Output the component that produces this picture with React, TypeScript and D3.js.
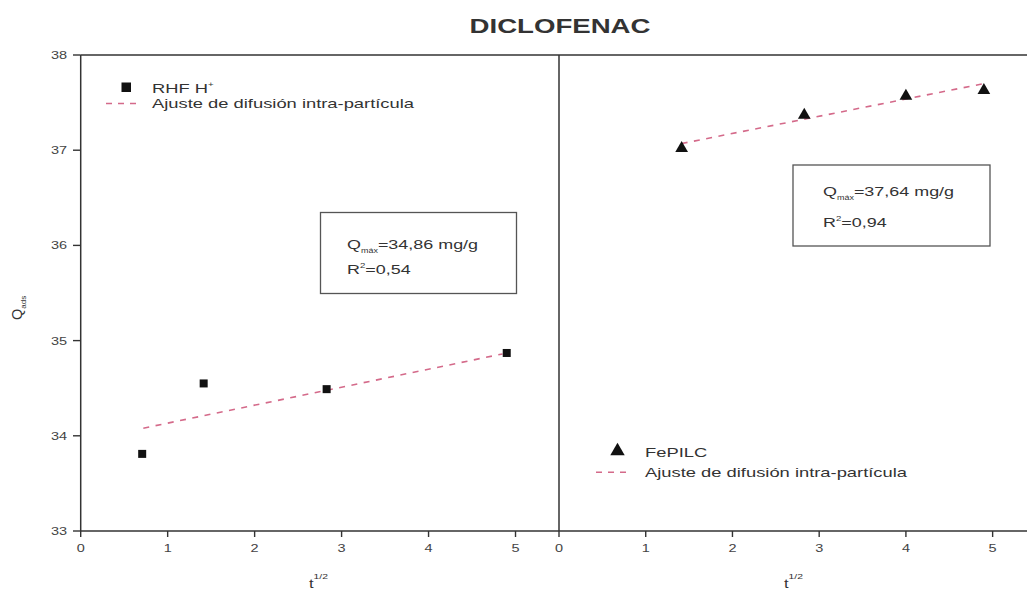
import React from "react";
import * as d3 from "d3";

// Kinetic data: Q_ads vs t^1/2 for two adsorbents
const leftX = [0.707, 1.414, 2.828, 4.899];
const leftY = [33.81, 34.55, 34.49, 34.87];
const leftFitX = [0.72, 4.85];
const leftFitY = [34.08, 34.86];

const rightX = [1.414, 2.828, 4.0, 4.899];
const rightY = [37.03, 37.38, 37.58, 37.64];
const rightFitX = [1.414, 4.9];
const rightFitY = [37.07, 37.7];

const yTicks = [33, 34, 35, 36, 37, 38];
const xTicks = [0, 1, 2, 3, 4, 5];

const W = 1027;
const H = 591;
const SX = 1.38; // horizontal text stretch
const FONT = "'Liberation Sans', Arial, sans-serif";
const TEXT = "#333";
const AXIS = "#333";
const FIT = "#d46a8a";

const yScale = d3.scaleLinear().domain([33, 38]).range([531, 55]);
const xLeft = d3.scaleLinear().domain([0, 5.5]).range([80.7, 559]);
const xRight = d3.scaleLinear().domain([0, 5.5]).range([559, 1036]);

function SText({ x, y, size, anchor = "start", weight = "normal", fill = TEXT, children }: any) {
  return (
    <text
      transform={`translate(${x},${y}) scale(${SX},1)`}
      fontSize={size}
      fontFamily={FONT}
      fontWeight={weight}
      fill={fill}
      textAnchor={anchor}
    >
      {children}
    </text>
  );
}

const fitLine = (xs: d3.ScaleLinear<number, number>) =>
  d3
    .line<[number, number]>()
    .x((d) => xs(d[0]))
    .y((d) => yScale(d[1]));

const triangle = d3.symbol().type(d3.symbolTriangle).size(70)();

function XAxis({ xs, labelX }: any) {
  return (
    <g>
      {xTicks.map((t) => (
        <g key={t}>
          <line x1={xs(t)} x2={xs(t)} y1={531} y2={537} stroke={AXIS} strokeWidth={1.4} />
          <SText x={xs(t)} y={552} size={10.5} anchor="middle" fill="#444">
            {t}
          </SText>
        </g>
      ))}
      <SText x={labelX} y={588} size={12}>
        t
        <tspan fontSize={7.5} dy={-9}>
          1/2
        </tspan>
      </SText>
    </g>
  );
}

export default function App() {
  const lf = fitLine(xLeft);
  const rf = fitLine(xRight);
  return (
    <div style={{ position: "absolute", left: 0, top: 0 }}>
      <svg width={W} height={H} style={{ display: "block", background: "#fff" }}>
        <rect x={0} y={0} width={W} height={H} fill="#fff" />

        {/* Title */}
        <SText x={560} y={33} size={20} anchor="middle" weight="bold">
          DICLOFENAC
        </SText>

        {/* Frames */}
        <line x1={80.7} x2={W} y1={55} y2={55} stroke={AXIS} strokeWidth={1.5} />
        <line x1={80.7} x2={W} y1={531} y2={531} stroke={AXIS} strokeWidth={1.5} />
        <line x1={80.7} x2={80.7} y1={55} y2={531} stroke={AXIS} strokeWidth={1.5} />
        <line x1={559} x2={559} y1={55} y2={531} stroke={AXIS} strokeWidth={1.5} />

        {/* Y axis */}
        {yTicks.map((t) => (
          <g key={t}>
            <line x1={73} x2={80.7} y1={yScale(t)} y2={yScale(t)} stroke={AXIS} strokeWidth={1.4} />
            <SText x={67} y={yScale(t) + 4} size={10.5} anchor="end" fill="#444">
              {t}
            </SText>
          </g>
        ))}
        <text
          transform="translate(22,320) rotate(-90)"
          fontSize={14.5}
          fontFamily={FONT}
          fill={TEXT}
        >
          Q
          <tspan fontSize={8} dy={4}>
            ads
          </tspan>
        </text>

        <XAxis xs={xLeft} labelX={309} />
        <XAxis xs={xRight} labelX={784} />

        {/* Left panel: RHF H+ */}
        <path
          d={lf(leftFitX.map((x, i) => [x, leftFitY[i]]) as [number, number][]) || ""}
          fill="none"
          stroke={FIT}
          strokeWidth={1.6}
          strokeDasharray="6,6.5"
        />
        {leftX.map((x, i) => (
          <rect key={i} x={xLeft(x) - 4} y={yScale(leftY[i]) - 4} width={8} height={8} fill="#111" />
        ))}

        {/* Right panel: FePILC */}
        <path
          d={rf(rightFitX.map((x, i) => [x, rightFitY[i]]) as [number, number][]) || ""}
          fill="none"
          stroke={FIT}
          strokeWidth={1.6}
          strokeDasharray="6,6.5"
        />
        {rightX.map((x, i) => (
          <path
            key={i}
            d={triangle || ""}
            transform={`translate(${xRight(x)},${yScale(rightY[i]) + 1})`}
            fill="#111"
          />
        ))}

        {/* Left legend */}
        <rect x={121.5} y={82.5} width={9.5} height={9.5} fill="#111" />
        <SText x={152} y={93} size={13.3}>
          RHF H
          <tspan fontSize={7} dy={-6}>
            +
          </tspan>
        </SText>
        <line x1={106} x2={138} y1={103.5} y2={103.5} stroke={FIT} strokeWidth={1.6} strokeDasharray="6,6" />
        <SText x={152} y={108} size={13.3}>
          Ajuste de difusión intra-partícula
        </SText>

        {/* Right legend */}
        <path d={d3.symbol().type(d3.symbolTriangle).size(90)() || ""} transform="translate(617.5,451)" fill="#111" />
        <SText x={645} y={456.5} size={13.3}>
          FePILC
        </SText>
        <line x1={596} x2={630} y1={472.3} y2={472.3} stroke={FIT} strokeWidth={1.6} strokeDasharray="6,6" />
        <SText x={645} y={477} size={13.3}>
          Ajuste de difusión intra-partícula
        </SText>

        {/* Left annotation */}
        <rect x={320.5} y={212.5} width={196} height={81} fill="#fff" stroke="#555" strokeWidth={1.3} />
        <SText x={347} y={249} size={13}>
          Q
          <tspan fontSize={6.5} dy={4}>
            máx
          </tspan>
          <tspan dy={-4}>=34,86 mg/g</tspan>
        </SText>
        <SText x={347} y={274} size={13}>
          R
          <tspan fontSize={7} dy={-6}>
            2
          </tspan>
          <tspan dy={6}>=0,54</tspan>
        </SText>

        {/* Right annotation */}
        <rect x={793} y={165} width={197} height={81} fill="#fff" stroke="#555" strokeWidth={1.3} />
        <SText x={823} y={196} size={13}>
          Q
          <tspan fontSize={6.5} dy={4}>
            máx
          </tspan>
          <tspan dy={-4}>=37,64 mg/g</tspan>
        </SText>
        <SText x={823} y={227} size={13}>
          R
          <tspan fontSize={7} dy={-6}>
            2
          </tspan>
          <tspan dy={6}>=0,94</tspan>
        </SText>
      </svg>
    </div>
  );
}
